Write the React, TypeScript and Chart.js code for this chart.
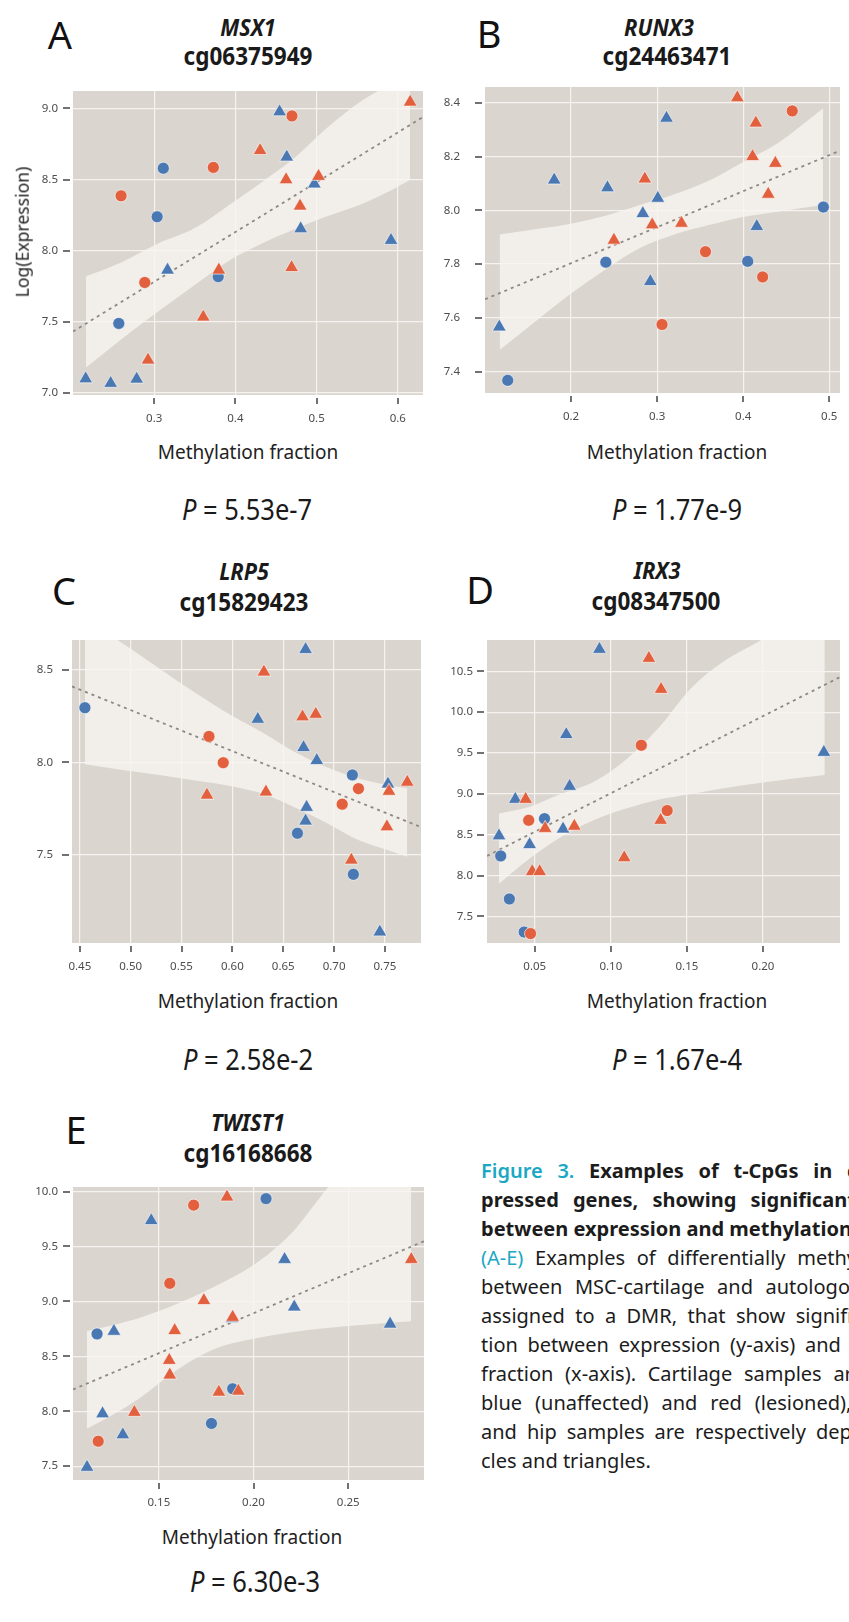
import React, { useEffect, useRef } from "react";
import { Chart, registerables } from "chart.js";
Chart.register(...registerables);

type Pt = [number, number];

// ---------------- Panel A : MSX1 / cg06375949 ----------------
const A_BLUE_CIRCLE: Pt[] = [[0.2564, 7.489], [0.3036, 8.239], [0.3112, 8.58], [0.3788, 7.818]];
const A_RED_CIRCLE: Pt[] = [[0.2592, 8.386], [0.2884, 7.777], [0.3728, 8.586], [0.4696, 8.948]];
const A_BLUE_TRI: Pt[] = [[0.2156, 7.1], [0.2464, 7.068], [0.2784, 7.098], [0.3164, 7.864], [0.4544, 8.977], [0.4632, 8.659], [0.4972, 8.47], [0.4804, 8.155], [0.5916, 8.073]];
const A_RED_TRI: Pt[] = [[0.2924, 7.232], [0.3604, 7.534], [0.3796, 7.864], [0.4304, 8.705], [0.4624, 8.5], [0.5024, 8.523], [0.4796, 8.314], [0.4692, 7.882], [0.6152, 9.045]];
const A_FIT_X = [0.2, 0.631];
const A_FIT_Y = [7.432, 8.94];
const A_BAND_X = [0.216, 0.26, 0.304, 0.35, 0.392, 0.432, 0.472, 0.512, 0.552, 0.59, 0.615];
const A_BAND_UP = [7.82, 7.92, 8.05, 8.16, 8.32, 8.48, 8.65, 8.86, 9.04, 9.17, 9.25];
const A_BAND_LO = [7.18, 7.38, 7.57, 7.76, 7.93, 8.05, 8.15, 8.24, 8.32, 8.42, 8.5];
const A_X_TICKS = [0.3, 0.4, 0.5, 0.6];
const A_X_LABELS = ["0.3", "0.4", "0.5", "0.6"];
const A_Y_TICKS = [7.0, 7.5, 8.0, 8.5, 9.0];
const A_Y_LABELS = ["7.0", "7.5", "8.0", "8.5", "9.0"];

// ---------------- Panel B : RUNX3 / cg24463471 ----------------
const B_BLUE_CIRCLE: Pt[] = [[0.1264, 7.367], [0.2404, 7.807], [0.4053, 7.81], [0.4932, 8.012]];
const B_RED_CIRCLE: Pt[] = [[0.3057, 7.575], [0.3562, 7.846], [0.4226, 7.752], [0.457, 8.37]];
const B_BLUE_TRI: Pt[] = [[0.1166, 7.566], [0.1804, 8.113], [0.2423, 8.084], [0.2834, 7.988], [0.3008, 8.045], [0.2921, 7.735], [0.3109, 8.343], [0.4158, 7.94]];
const B_RED_TRI: Pt[] = [[0.2498, 7.889], [0.2857, 8.117], [0.2943, 7.946], [0.3283, 7.952], [0.3932, 8.419], [0.4147, 8.325], [0.4109, 8.2], [0.4374, 8.175], [0.4291, 8.06]];
const B_FIT_X = [0.1, 0.5125];
const B_FIT_Y = [7.669, 8.222];
const B_BAND_X = [0.117, 0.16, 0.2, 0.24, 0.28, 0.32, 0.36, 0.4, 0.44, 0.493];
const B_BAND_UP = [7.91, 7.93, 7.95, 7.98, 8.02, 8.06, 8.11, 8.18, 8.25, 8.38];
const B_BAND_LO = [7.48, 7.59, 7.69, 7.78, 7.86, 7.91, 7.945, 7.975, 7.995, 8.02];
const B_X_TICKS = [0.2, 0.3, 0.4, 0.5];
const B_X_LABELS = ["0.2", "0.3", "0.4", "0.5"];
const B_Y_TICKS = [7.4, 7.6, 7.8, 8.0, 8.2, 8.4];
const B_Y_LABELS = ["7.4", "7.6", "7.8", "8.0", "8.2", "8.4"];

// ---------------- Panel C : LRP5 / cg15829423 ----------------
const C_BLUE_CIRCLE: Pt[] = [[0.455, 8.295], [0.664, 7.617], [0.718, 7.932], [0.719, 7.395]];
const C_RED_CIRCLE: Pt[] = [[0.577, 8.14], [0.591, 7.998], [0.724, 7.858], [0.708, 7.774]];
const C_BLUE_TRI: Pt[] = [[0.625, 8.233], [0.672, 8.61], [0.67, 8.08], [0.683, 8.01], [0.673, 7.757], [0.672, 7.683], [0.753, 7.883], [0.745, 7.084]];
const C_RED_TRI: Pt[] = [[0.575, 7.823], [0.631, 8.488], [0.633, 7.84], [0.669, 8.246], [0.682, 8.26], [0.717, 7.472], [0.754, 7.844], [0.772, 7.893], [0.752, 7.652]];
const C_FIT_X = [0.4423, 0.7855];
const C_FIT_Y = [8.41, 7.65];
const C_BAND_X = [0.455, 0.49, 0.53, 0.565, 0.6, 0.63, 0.66, 0.69, 0.72, 0.75, 0.772];
const C_BAND_UP = [8.77, 8.65, 8.5, 8.37, 8.25, 8.16, 8.06, 7.98, 7.92, 7.88, 7.86];
const C_BAND_LO = [7.99, 7.96, 7.93, 7.9, 7.87, 7.83, 7.76, 7.68, 7.59, 7.53, 7.49];
const C_X_TICKS = [0.45, 0.5, 0.55, 0.6, 0.65, 0.7, 0.75];
const C_X_LABELS = ["0.45", "0.50", "0.55", "0.60", "0.65", "0.70", "0.75"];
const C_Y_TICKS = [7.5, 8.0, 8.5];
const C_Y_LABELS = ["7.5", "8.0", "8.5"];

// ---------------- Panel D : IRX3 / cg08347500 ----------------
const D_BLUE_CIRCLE: Pt[] = [[0.0564, 8.697], [0.0276, 8.241], [0.0333, 7.714], [0.043, 7.309]];
const D_RED_CIRCLE: Pt[] = [[0.12, 9.596], [0.046, 8.677], [0.137, 8.796], [0.0472, 7.29]];
const D_BLUE_TRI: Pt[] = [[0.0925, 10.77], [0.0707, 9.727], [0.24, 9.509], [0.0729, 9.093], [0.0372, 8.934], [0.0686, 8.57], [0.0265, 8.487], [0.0466, 8.38]];
const D_RED_TRI: Pt[] = [[0.125, 10.66], [0.133, 10.28], [0.044, 8.934], [0.0568, 8.578], [0.076, 8.605], [0.1327, 8.677], [0.1088, 8.22], [0.0483, 8.05], [0.0532, 8.05]];
const D_FIT_X = [0.0186, 0.2506];
const D_FIT_Y = [8.24, 10.43];
const D_BAND_X = [0.0265, 0.046, 0.067, 0.089, 0.11, 0.131, 0.153, 0.174, 0.2, 0.2406];
const D_BAND_UP = [8.76, 8.84, 9.0, 9.15, 9.42, 9.8, 10.3, 10.62, 10.9, 11.5];
const D_BAND_LO = [7.9, 8.2, 8.47, 8.68, 8.82, 8.93, 9.0, 9.07, 9.14, 9.23];
const D_X_TICKS = [0.05, 0.1, 0.15, 0.2];
const D_X_LABELS = ["0.05", "0.10", "0.15", "0.20"];
const D_Y_TICKS = [7.5, 8.0, 8.5, 9.0, 9.5, 10.0, 10.5];
const D_Y_LABELS = ["7.5", "8.0", "8.5", "9.0", "9.5", "10.0", "10.5"];

// ---------------- Panel E : TWIST1 / cg16168668 ----------------
const E_BLUE_CIRCLE: Pt[] = [[0.1174, 8.704], [0.2066, 9.935], [0.189, 8.204], [0.1778, 7.889]];
const E_RED_CIRCLE: Pt[] = [[0.118, 7.727], [0.1684, 9.876], [0.1558, 9.164]];
const E_BLUE_TRI: Pt[] = [[0.1121, 7.49], [0.131, 7.786], [0.1203, 7.977], [0.1263, 8.728], [0.146, 9.735], [0.1886, 8.845], [0.2164, 9.382], [0.2215, 8.949], [0.2721, 8.793]];
const E_RED_TRI: Pt[] = [[0.1371, 7.99], [0.186, 9.95], [0.1738, 9.008], [0.1584, 8.734], [0.1555, 8.463], [0.1558, 8.33], [0.189, 8.855], [0.1817, 8.174], [0.192, 8.183], [0.2833, 9.382]];
const E_FIT_X = [0.1047, 0.29];
const E_FIT_Y = [8.198, 9.547];
const E_BAND_X = [0.112, 0.125, 0.14, 0.16, 0.18, 0.2, 0.22, 0.24, 0.26, 0.2833];
const E_BAND_UP = [8.73, 8.78, 8.85, 8.98, 9.14, 9.33, 9.62, 10.05, 10.4, 10.8];
const E_BAND_LO = [7.84, 7.96, 8.12, 8.38, 8.57, 8.66, 8.72, 8.76, 8.79, 8.82];
const E_X_TICKS = [0.15, 0.2, 0.25];
const E_X_LABELS = ["0.15", "0.20", "0.25"];
const E_Y_TICKS = [7.5, 8.0, 8.5, 9.0, 9.5, 10.0];
const E_Y_LABELS = ["7.5", "8.0", "8.5", "9.0", "9.5", "10.0"];

// ---------------- styling ----------------
const FONT = "'Noto Sans', 'DejaVu Sans', sans-serif";
const PLOT_BG = "#dad5cf";
const BAND_FILL = "rgba(248,245,241,0.78)";
const GRID = "#f5f2ef";
const BLUE = "#4a78b2";
const RED = "#e2603e";
const EDGE = "rgba(255,255,255,0.6)";
const FIT = "#8e8883";
const TICK_TXT = "#4d4d4d";
const TEAL = "#1aa8c4";

interface Spec {
  id: string;
  l: number; t: number; r: number; b: number;
  yAxisW: number; xAxisH: number; yGap: number; xLabOff: number;
  xMin: number; xMax: number; yMin: number; yMax: number;
  xTicks: number[]; xLabels: string[]; yTicks: number[]; yLabels: string[];
  blueCircle: Pt[]; redCircle: Pt[]; blueTri: Pt[]; redTri: Pt[];
  fitX: number[]; fitY: number[];
  bandX: number[]; bandUp: number[]; bandLo: number[];
}

const PANELS: Spec[] = [
  { id: "A", l: 73, t: 82, r: 432, b: 395, yAxisW: 60, xAxisH: 34, yGap: 15, xLabOff: 24,
    xMin: 0.2, xMax: 0.631, yMin: 6.986, yMax: 9.123,
    xTicks: A_X_TICKS, xLabels: A_X_LABELS, yTicks: A_Y_TICKS, yLabels: A_Y_LABELS,
    blueCircle: A_BLUE_CIRCLE, redCircle: A_RED_CIRCLE, blueTri: A_BLUE_TRI, redTri: A_RED_TRI,
    fitX: A_FIT_X, fitY: A_FIT_Y, bandX: A_BAND_X, bandUp: A_BAND_UP, bandLo: A_BAND_LO },
  { id: "B", l: 485, t: 78, r: 849, b: 393, yAxisW: 60, xAxisH: 34, yGap: 25, xLabOff: 24,
    xMin: 0.1, xMax: 0.5125, yMin: 7.32, yMax: 8.459,
    xTicks: B_X_TICKS, xLabels: B_X_LABELS, yTicks: B_Y_TICKS, yLabels: B_Y_LABELS,
    blueCircle: B_BLUE_CIRCLE, redCircle: B_RED_CIRCLE, blueTri: B_BLUE_TRI, redTri: B_RED_TRI,
    fitX: B_FIT_X, fitY: B_FIT_Y, bandX: B_BAND_X, bandUp: B_BAND_UP, bandLo: B_BAND_LO },
  { id: "C", l: 72, t: 631, r: 430, b: 943, yAxisW: 60, xAxisH: 34, yGap: 19, xLabOff: 24,
    xMin: 0.4423, xMax: 0.7855, yMin: 7.024, yMax: 8.661,
    xTicks: C_X_TICKS, xLabels: C_X_LABELS, yTicks: C_Y_TICKS, yLabels: C_Y_LABELS,
    blueCircle: C_BLUE_CIRCLE, redCircle: C_RED_CIRCLE, blueTri: C_BLUE_TRI, redTri: C_RED_TRI,
    fitX: C_FIT_X, fitY: C_FIT_Y, bandX: C_BAND_X, bandUp: C_BAND_UP, bandLo: C_BAND_LO },
  { id: "D", l: 487, t: 631, r: 849, b: 943, yAxisW: 60, xAxisH: 34, yGap: 14, xLabOff: 24,
    xMin: 0.0186, xMax: 0.2506, yMin: 7.175, yMax: 10.884,
    xTicks: D_X_TICKS, xLabels: D_X_LABELS, yTicks: D_Y_TICKS, yLabels: D_Y_LABELS,
    blueCircle: D_BLUE_CIRCLE, redCircle: D_RED_CIRCLE, blueTri: D_BLUE_TRI, redTri: D_RED_TRI,
    fitX: D_FIT_X, fitY: D_FIT_Y, bandX: D_BAND_X, bandUp: D_BAND_UP, bandLo: D_BAND_LO },
  { id: "E", l: 73, t: 1178, r: 433, b: 1480, yAxisW: 60, xAxisH: 34, yGap: 15, xLabOff: 23,
    xMin: 0.1047, xMax: 0.29, yMin: 7.374, yMax: 10.041,
    xTicks: E_X_TICKS, xLabels: E_X_LABELS, yTicks: E_Y_TICKS, yLabels: E_Y_LABELS,
    blueCircle: E_BLUE_CIRCLE, redCircle: E_RED_CIRCLE, blueTri: E_BLUE_TRI, redTri: E_RED_TRI,
    fitX: E_FIT_X, fitY: E_FIT_Y, bandX: E_BAND_X, bandUp: E_BAND_UP, bandLo: E_BAND_LO },
];

const bgPlugin = {
  id: "plotBg",
  beforeDraw(c: any) {
    const { ctx, chartArea: a } = c;
    ctx.save();
    ctx.fillStyle = PLOT_BG;
    ctx.fillRect(a.left, a.top, a.right - a.left, a.bottom - a.top);
    ctx.restore();
  },
};

const tickMarkPlugin = {
  id: "tickMarks",
  afterDraw(c: any) {
    const { ctx, chartArea: a, scales } = c;
    ctx.save();
    ctx.strokeStyle = "#444";
    ctx.lineWidth = 1.5;
    ctx.beginPath();
    scales.x.ticks.forEach((t: any) => {
      const px = Math.round(scales.x.getPixelForValue(t.value));
      ctx.moveTo(px, a.bottom + 3);
      ctx.lineTo(px, a.bottom + 9);
    });
    scales.y.ticks.forEach((t: any) => {
      const py = Math.round(scales.y.getPixelForValue(t.value));
      ctx.moveTo(a.left - 10, py);
      ctx.lineTo(a.left - 3, py);
    });
    ctx.stroke();
    ctx.restore();
  },
};

function ScatterPanel({ s }: { s: Spec }) {
  const ref = useRef<HTMLCanvasElement | null>(null);
  const W = s.r - s.l + s.yAxisW;
  const H = s.b - s.t + s.xAxisH;
  useEffect(() => {
    if (!ref.current) return;
    const xy = (xs: number[], ys: number[]) => xs.map((x, i) => ({ x, y: ys[i] }));
    const pp = (a: Pt[]) => a.map(([x, y]) => ({ x, y }));
    const pts = (a: Pt[], color: string, style: string, r: number, order: number) => ({
      data: pp(a),
      showLine: false,
      pointStyle: style,
      pointRadius: r,
      backgroundColor: color,
      pointBackgroundColor: color,
      borderColor: EDGE,
      pointBorderColor: EDGE,
      pointBorderWidth: 1,
      order,
    });
    const tickFont = { family: FONT, size: 11.5 };
    const chart = new Chart(ref.current, {
      type: "scatter",
      data: {
        datasets: [
          { data: xy(s.bandX, s.bandUp), showLine: true, pointRadius: 0, borderWidth: 0, borderColor: "rgba(0,0,0,0)", fill: false, tension: 0.4, cubicInterpolationMode: "monotone", order: 12 } as any,
          { data: xy(s.bandX, s.bandLo), showLine: true, pointRadius: 0, borderWidth: 0, borderColor: "rgba(0,0,0,0)", backgroundColor: BAND_FILL, fill: "-1", tension: 0.4, cubicInterpolationMode: "monotone", order: 11 } as any,
          { data: xy(s.fitX, s.fitY), showLine: true, pointRadius: 0, borderColor: FIT, borderWidth: 1.8, borderDash: [3, 4], fill: false, order: 9 } as any,
          pts(s.blueCircle, BLUE, "circle", 6, 4),
          pts(s.redCircle, RED, "circle", 6, 3),
          pts(s.blueTri, BLUE, "triangle", 8, 2),
          pts(s.redTri, RED, "triangle", 8, 1),
        ],
      },
      options: {
        responsive: false,
        maintainAspectRatio: false,
        animation: false,
        devicePixelRatio: 1,
        events: [],
        layout: { padding: 0 },
        plugins: { legend: { display: false }, tooltip: { enabled: false } },
        scales: {
          x: {
            type: "linear",
            position: "bottom",
            min: s.xMin,
            max: s.xMax,
            afterBuildTicks: (sc: any) => { sc.ticks = s.xTicks.map((v) => ({ value: v })); },
            afterFit: (sc: any) => { sc.height = s.xAxisH; sc.paddingLeft = 0; sc.paddingRight = 0; sc.paddingTop = 0; sc.paddingBottom = 0; },
            grid: { color: GRID, lineWidth: 1.2, drawTicks: false },
            border: { display: false },
            ticks: {
              autoSkip: false, maxRotation: 0, minRotation: 0,
              padding: s.xLabOff - 7, color: TICK_TXT, font: tickFont,
              callback: (v: any) => s.xLabels[s.xTicks.indexOf(Number(v))] ?? "",
            },
          },
          y: {
            type: "linear",
            position: "left",
            min: s.yMin,
            max: s.yMax,
            afterBuildTicks: (sc: any) => { sc.ticks = s.yTicks.map((v) => ({ value: v })); },
            afterFit: (sc: any) => { sc.width = s.yAxisW; sc.paddingLeft = 0; sc.paddingRight = 0; sc.paddingTop = 0; sc.paddingBottom = 0; },
            grid: { color: GRID, lineWidth: 1.2, drawTicks: false },
            border: { display: false },
            ticks: {
              autoSkip: false,
              padding: s.yGap, color: TICK_TXT, font: tickFont,
              callback: (v: any) => s.yLabels[s.yTicks.indexOf(Number(v))] ?? "",
            },
          },
        },
      } as any,
      plugins: [bgPlugin, tickMarkPlugin],
    });
    return () => chart.destroy();
  }, [s]);
  return (
    <canvas
      ref={ref}
      width={W}
      height={H}
      style={{ position: "absolute", left: s.l - s.yAxisW, top: s.t, width: W, height: H }}
    />
  );
}

function T(props: {
  x: number; y: number; size: number; children: React.ReactNode;
  weight?: number; italic?: boolean; sx?: number; rotate?: number; color?: string;
}) {
  const { x, y, size, children, weight = 400, italic = false, sx = 1, rotate = 0, color = "#1c1c1c" } = props;
  return (
    <div
      style={{
        position: "absolute", left: x, top: y,
        transform: `translate(-50%, -50%) rotate(${rotate}deg) scaleX(${sx})`,
        fontFamily: FONT, fontSize: size, fontWeight: weight,
        fontStyle: italic ? "italic" : "normal", color, whiteSpace: "nowrap", lineHeight: 1,
      }}
    >
      {children}
    </div>
  );
}

const HEADINGS = [
  { letter: "A", lx: 60, ly: 34, gene: "MSX1", cg: "cg06375949", gx: 248, gy: 27, cx: 248, cy: 55 },
  { letter: "B", lx: 489, ly: 33, gene: "RUNX3", cg: "cg24463471", gx: 659, gy: 27, cx: 667, cy: 55 },
  { letter: "C", lx: 64, ly: 590, gene: "LRP5", cg: "cg15829423", gx: 244, gy: 571, cx: 244, cy: 601 },
  { letter: "D", lx: 480, ly: 589, gene: "IRX3", cg: "cg08347500", gx: 657, gy: 570, cx: 656, cy: 600 },
  { letter: "E", lx: 76, ly: 1129, gene: "TWIST1", cg: "cg16168668", gx: 248, gy: 1122, cx: 248, cy: 1152 },
];

const FOOTS = [
  { mx: 248, my: 452, px: 247, py: 508, p: "5.53e-7" },
  { mx: 677, my: 452, px: 677, py: 508, p: "1.77e-9" },
  { mx: 248, my: 1001, px: 248, py: 1058, p: "2.58e-2" },
  { mx: 677, my: 1001, px: 677, py: 1058, p: "1.67e-4" },
  { mx: 252, my: 1537, px: 255, py: 1580, p: "6.30e-3" },
];

type Seg = { t: string; teal?: boolean; w?: number };
const CAPTION: { segs: Seg[]; ws: number }[] = [
  { segs: [{ t: "Figure 3. ", teal: true, w: 600 }, { t: "Examples of t-CpGs in differentially ex-", w: 700 }], ws: 9.5 },
  { segs: [{ t: "pressed genes, showing significant correlation", w: 700 }], ws: 9 },
  { segs: [{ t: "between expression and methylation.", w: 700 }], ws: 0 },
  { segs: [{ t: "(A-E) ", teal: true }, { t: "Examples of differentially methylated CpGs" }], ws: 6.5 },
  { segs: [{ t: "between MSC-cartilage and autologous cartilage," }], ws: 7.3 },
  { segs: [{ t: "assigned to a DMR, that show significant correla-" }], ws: 5.2 },
  { segs: [{ t: "tion between expression (y-axis) and methylation" }], ws: 4.5 },
  { segs: [{ t: "fraction (x-axis). Cartilage samples are shown in" }], ws: 6.5 },
  { segs: [{ t: "blue (unaffected) and red (lesioned), while knee" }], ws: 7.8 },
  { segs: [{ t: "and hip samples are respectively depicted as cir-" }], ws: 4.8 },
  { segs: [{ t: "cles and triangles." }], ws: 0 },
];

export default function App() {
  return (
    <div
      style={{
        position: "fixed", left: 0, top: 0, width: 849, height: 1622,
        overflow: "hidden", background: "#ffffff", fontFamily: FONT,
      }}
    >
      {PANELS.map((s) => (
        <ScatterPanel key={s.id} s={s} />
      ))}
      {HEADINGS.map((h) => (
        <React.Fragment key={h.letter}>
          <T x={h.lx} y={h.ly} size={38} color="#111">{h.letter}</T>
          <T x={h.gx} y={h.gy} size={24} weight={700} italic sx={0.9} color="#1a1a1a">{h.gene}</T>
          <T x={h.cx} y={h.cy} size={25} weight={700} sx={0.9} color="#1a1a1a">{h.cg}</T>
        </React.Fragment>
      ))}
      {FOOTS.map((f, i) => (
        <React.Fragment key={"f" + i}>
          <T x={f.mx} y={f.my} size={20} sx={0.95} color="#222">Methylation fraction</T>
          <T x={f.px} y={f.py} size={29} sx={0.88} color="#1a1a1a">
            <span style={{ fontStyle: "italic" }}>P</span> = {f.p}
          </T>
        </React.Fragment>
      ))}
      <T x={22} y={232} size={18.5} rotate={-90} sx={0.95} color="#222">Log(Expression)</T>
      {CAPTION.map((line, i) => (
        <div
          key={"c" + i}
          style={{
            position: "absolute", left: 481, top: 1170 - 14.5 + i * 29, height: 29,
            lineHeight: "29px", fontFamily: FONT, fontSize: 20, whiteSpace: "nowrap",
            wordSpacing: line.ws, color: "#1c1c1c",
          }}
        >
          {line.segs.map((sg, j) => (
            <span key={j} style={{ color: sg.teal ? TEAL : "#1c1c1c", fontWeight: sg.w ?? 400 }}>{sg.t}</span>
          ))}
        </div>
      ))}
    </div>
  );
}
